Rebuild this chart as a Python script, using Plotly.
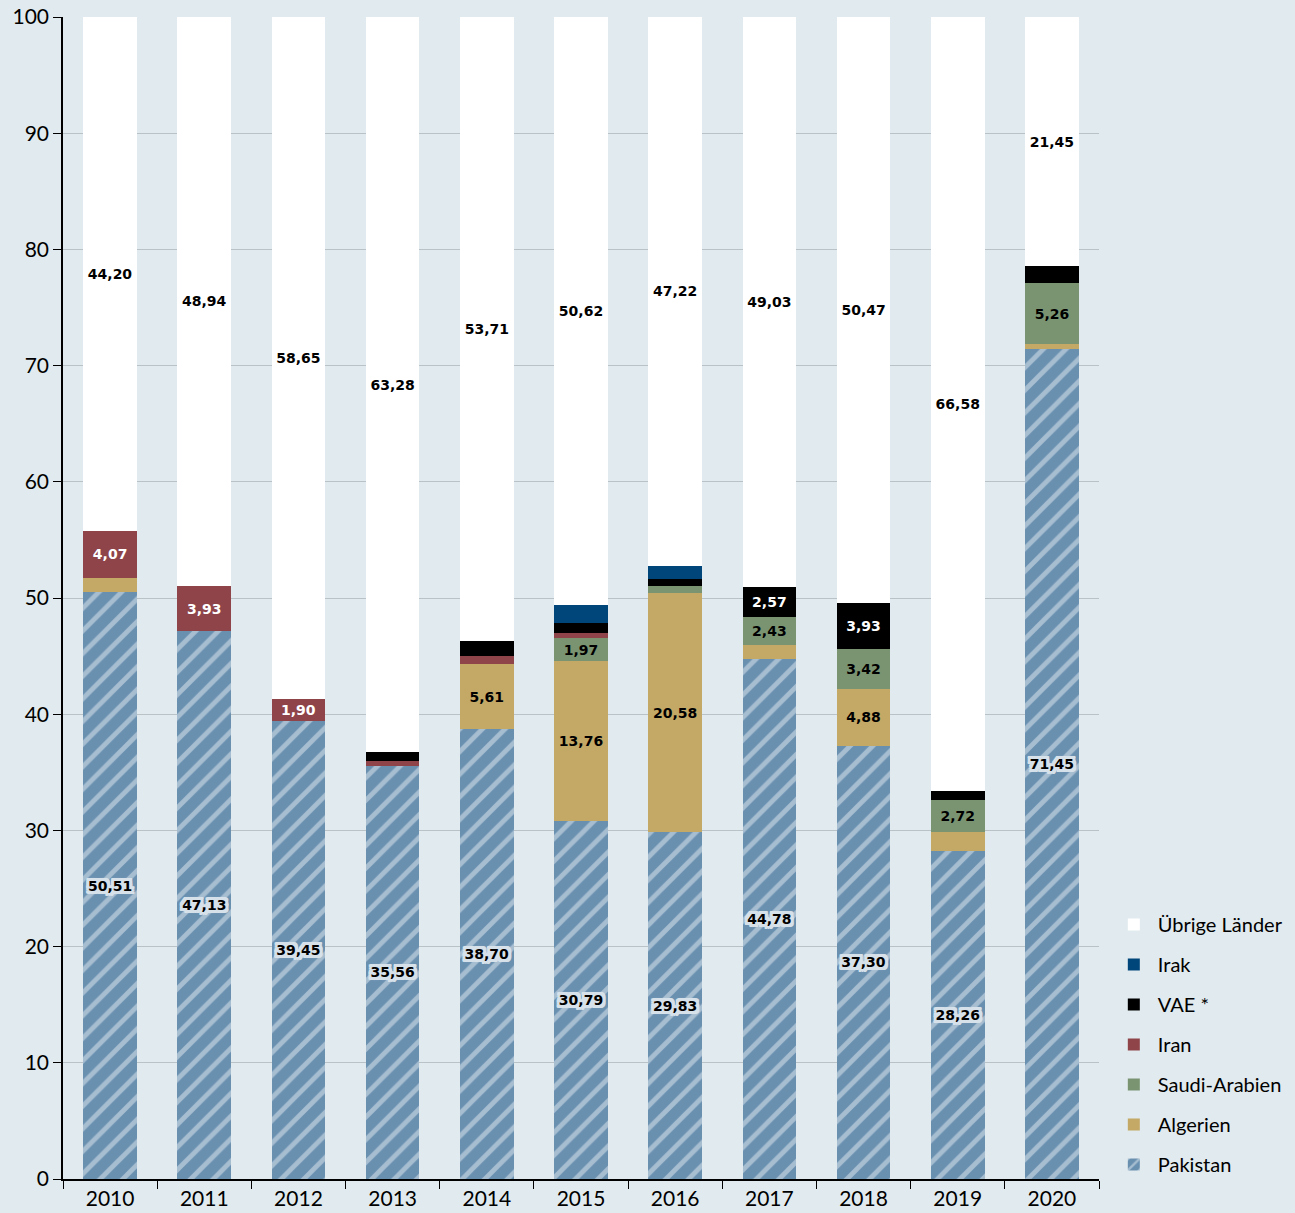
import plotly.graph_objects as go

years = ["2010", "2011", "2012", "2013", "2014", "2015", "2016", "2017", "2018", "2019", "2020"]
pakistan = [50.51, 47.13, 39.45, 35.56, 38.70, 30.79, 29.83, 44.78, 37.30, 28.26, 71.45]
algerien = [1.22, 0, 0, 0, 5.61, 13.76, 20.58, 1.19, 4.88, 1.62, 0.37]
saudi = [0, 0, 0, 0, 0, 1.97, 0.62, 2.43, 3.42, 2.72, 5.26]
iran = [4.07, 3.93, 1.90, 0.40, 0.74, 0.50, 0, 0, 0, 0, 0]
vae = [0, 0, 0, 0.76, 1.24, 0.83, 0.60, 2.57, 3.93, 0.82, 1.47]
irak = [0, 0, 0, 0, 0, 1.53, 1.15, 0, 0, 0, 0]
uebrige = [44.20, 48.94, 58.65, 63.28, 53.71, 50.62, 47.22, 49.03, 50.47, 66.58, 21.45]

FONT = "Source Sans Pro, Lato, Noto Sans, sans-serif"
LABEL_FONT = "DejaVu Sans, Verdana, sans-serif"
BG = "#e1eaee"


def labels(vals, threshold=1.85):
    return [f"{v:.2f}".replace(".", ",") if v >= threshold else "" for v in vals]


hc = "#d6e1ea"
halo = ", ".join(f"{dx}px {dy}px 0 {hc}" for dx in (-3, -2, 0, 2, 3) for dy in (-3, -2, 0, 2, 3)) + f", 0 0 4px {hc}"

series = [
    ("Pakistan", pakistan, "#6a90b0", "black", halo),
    ("Algerien", algerien, "#c4a865", "black", "none"),
    ("Saudi-Arabien", saudi, "#7a9472", "black", "none"),
    ("Iran", iran, "#8e4449", "white", "none"),
    ("VAE *", vae, "#000000", "white", "none"),
    ("Irak", irak, "#00467a", "white", "none"),
    ("Übrige Länder", uebrige, "#ffffff", "black", "none"),
]

fig = go.Figure()
n = len(series)
for i, (name, vals, color, tcol, shadow) in enumerate(series):
    marker = dict(color=color, line=dict(width=0))
    if name == "Pakistan":
        marker["pattern"] = dict(shape="/", fgcolor="#e3ebf1", bgcolor=color,
                                 size=16, solidity=0.3, fillmode="overlay")
    fig.add_trace(go.Bar(
        x=years, y=vals, name=name, legendgroup=name, legendrank=n - i,
        marker=marker,
        text=labels(vals), textposition="inside", insidetextanchor="middle",
        textangle=0, constraintext="none",
        textfont=dict(family=LABEL_FONT, size=14, color=tcol, weight="bold", shadow=shadow),
        hoverinfo="skip",
    ))

fig.update_layout(
    barmode="stack",
    bargap=0.43,
    width=1295, height=1213,
    margin=dict(l=63, r=196, t=17, b=34),
    paper_bgcolor=BG,
    plot_bgcolor=BG,
    font=dict(family=FONT, size=21, color="black"),
    showlegend=True,
    legend=dict(
        traceorder="grouped",
        xref="container", yref="container",
        x=0.857, xanchor="left", y=0.024, yanchor="bottom",
        font=dict(family=FONT, size=20),
        bgcolor="rgba(0,0,0,0)",
        tracegroupgap=11,
        itemwidth=38,
    ),
    xaxis=dict(
        type="category", tickson="boundaries", ticks="outside", ticklen=8,
        tickcolor="black", showline=True, linecolor="black", linewidth=1.5,
        showgrid=False, tickfont=dict(size=21), zeroline=False, automargin=False,
    ),
    yaxis=dict(
        range=[0, 100], dtick=10, ticks="outside", ticklen=8, tickcolor="black",
        showline=True, linecolor="black", linewidth=1.5,
        showgrid=True, gridcolor="#b9c2c6", gridwidth=1,
        tickfont=dict(size=21), zeroline=False, automargin=False,
    ),
)

post = ("document.body.style.margin='0';document.body.style.padding='0';"
        f"document.body.style.background='{BG}';")
fig.write_html("out.html", post_script=post, config={"displayModeBar": False})
